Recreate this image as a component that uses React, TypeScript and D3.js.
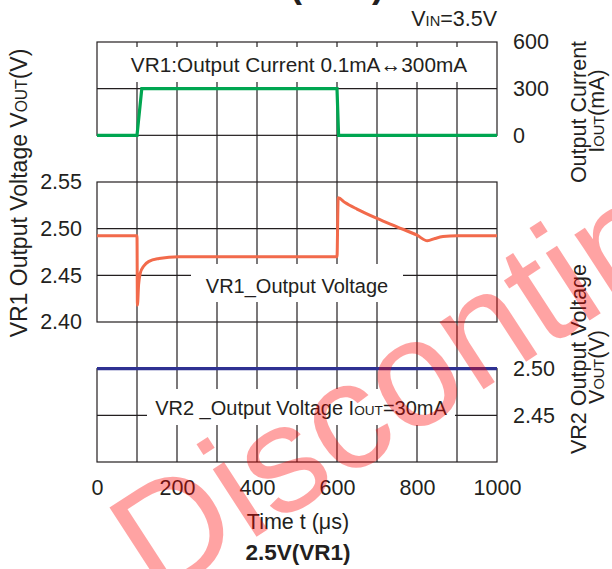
import { useEffect, useRef } from 'react';
import * as d3 from 'd3';

// axis ticks
const timeTicks = [0, 200, 400, 600, 800, 1000];
const timeGrid = [100, 200, 300, 400, 500, 600, 700, 800, 900];
const currentTicks = [0, 300, 600];
const vr1Ticks = [2.4, 2.45, 2.5, 2.55];
const vr2Ticks = [2.45, 2.5];

// VR1 load current step (mA)
const currentT = [0, 100, 112, 600, 604, 1000];
const currentMA = [0, 0, 300, 300, 0, 0];

// VR1 output voltage (V)
const vr1T = [0, 100, 101, 104, 108, 117, 130, 155, 205, 600, 603, 620, 650, 700, 750, 800, 826, 845, 865, 900, 1000];
const vr1V = [2.4925, 2.4925, 2.418, 2.44, 2.452, 2.46, 2.465, 2.468, 2.47, 2.47, 2.533, 2.528, 2.521, 2.511, 2.502, 2.493, 2.487, 2.4895, 2.4915, 2.4925, 2.4925];

// VR2 output voltage (V)
const vr2T = [0, 1000];
const vr2V = [2.5, 2.5];

const FONT = '"Liberation Sans", Arial, sans-serif';
const INK = '#231f20';

export default function App() {
  const svgRef = useRef<SVGSVGElement>(null);

  useEffect(() => {
    const svg = svgRef.current;
    if (!svg) return;

    const width = 612;
    const height = 569;
    const left = 97;
    const right = 497;
    const top = 42;
    const rowH = 420 / 9;
    const bottom = top + 9 * rowH;

    const sel = d3.select(svg);
    sel.selectAll('*').remove();
    sel.attr('viewBox', `0 0 ${width} ${height}`);

    const x = d3.scaleLinear().domain([0, 1000]).range([left, right]);
    const yCur = d3.scaleLinear().domain([0, 600]).range([top + 2 * rowH, top]);
    const yV1 = d3.scaleLinear().domain([2.4, 2.55]).range([top + 6 * rowH, top + 3 * rowH]);
    const yV2 = d3.scaleLinear().domain([2.4, 2.5]).range([bottom, top + 7 * rowH]);

    // clipped title of the chart above (only the bottom of the brackets shows)
    sel.append('text')
      .attr('x', 300)
      .attr('y', -3)
      .attr('text-anchor', 'middle')
      .attr('font-family', FONT)
      .attr('font-weight', 700)
      .attr('font-size', 36)
      .attr('fill', INK)
      .text('3.3V(VR2)');

    // vertical grid, through all three panels
    sel.append('g')
      .selectAll('line')
      .data(timeGrid)
      .join('line')
      .attr('x1', (d) => x(d))
      .attr('x2', (d) => x(d))
      .attr('y1', top)
      .attr('y2', bottom)
      .attr('stroke', INK)
      .attr('stroke-width', 1.2);

    // panel frames
    const panels = [
      [yCur(600), yCur(0)],
      [yV1(2.55), yV1(2.4)],
      [yV2(2.5), yV2(2.4)],
    ];
    sel.append('g')
      .selectAll('rect')
      .data(panels)
      .join('rect')
      .attr('x', left)
      .attr('y', (d) => d[0])
      .attr('width', right - left)
      .attr('height', (d) => d[1] - d[0])
      .attr('fill', 'none')
      .attr('stroke', INK)
      .attr('stroke-width', 1.2);

    // horizontal grid inside panels
    const hLines = [yCur(300), yV1(2.45), yV1(2.5), yV2(2.45)];
    sel.append('g')
      .selectAll('line')
      .data(hLines)
      .join('line')
      .attr('x1', left)
      .attr('x2', right)
      .attr('y1', (d) => d)
      .attr('y2', (d) => d)
      .attr('stroke', INK)
      .attr('stroke-width', 1.2);

    // white boxes behind the in-plot labels
    const boxes = [
      [98, 47, 496, 82],
      [191, 264, 403, 302],
      [147, 389, 455, 425],
    ];
    sel.append('g')
      .selectAll('rect')
      .data(boxes)
      .join('rect')
      .attr('x', (d) => d[0])
      .attr('y', (d) => d[1])
      .attr('width', (d) => d[2] - d[0])
      .attr('height', (d) => d[3] - d[1])
      .attr('fill', '#fff');

    // text with small-caps subscripts like V_OUT
    const rich = (
      parent: d3.Selection<any, any, any, any>,
      parts: [string, boolean][],
      size: number
    ) => {
      parts.forEach(([t, small]) => {
        parent.append('tspan').attr('font-size', small ? size * 0.68 : size).text(t);
      });
      return parent;
    };

    const label = (px: number, py: number, size: number, parts: [string, boolean][], anchor = 'middle', rotate = false) => {
      const t = sel.append('text')
        .attr('font-family', FONT)
        .attr('font-size', size)
        .attr('fill', INK)
        .attr('text-anchor', anchor);
      if (rotate) t.attr('transform', `translate(${px},${py}) rotate(-90)`);
      else t.attr('x', px).attr('y', py);
      return rich(t, parts, size);
    };

    label(299, 72, 20.8, [['VR1:Output Current 0.1mA\u2194300mA', false]]);
    label(297, 293, 20, [['VR1_Output Voltage', false]]);
    label(301, 415, 20, [['VR2 _Output Voltage I', false], ['OUT', true], ['=30mA', false]]);
    label(497, 26, 21.5, [['V', false], ['IN', true], ['=3.5V', false]], 'end');

    // axis titles
    label(27, 193, 23, [['VR1 Output Voltage V', false], ['OUT', true], ['(V)', false]], 'middle', true);
    label(586, 112, 21.5, [['Output Current', false]], 'middle', true);
    label(604, 111, 21.5, [['I', false], ['OUT', true], ['(mA)', false]], 'middle', true);
    label(586, 359, 21.5, [['VR2 Output Voltage', false]], 'middle', true);
    label(604, 367, 21.5, [['V', false], ['OUT', true], ['(V)', false]], 'middle', true);
    label(298, 529, 21.5, [['Time t (\u03bcs)', false]]);
    label(298, 560, 22.5, [['2.5V(VR1)', false]]).attr('font-weight', 700);

    const styleAxis = (g: d3.Selection<SVGGElement, unknown, null, undefined>) => {
      g.attr('font-size', 21.5).attr('font-family', FONT);
      g.select('.domain').remove();
      g.selectAll('.tick text').attr('fill', INK);
    };

    sel.append('g')
      .attr('transform', `translate(0,${bottom})`)
      .call(d3.axisBottom(x).tickValues(timeTicks).tickSize(0).tickPadding(18).tickFormat(d3.format('d')))
      .call(styleAxis);

    sel.append('g')
      .attr('transform', `translate(${left},0)`)
      .call(d3.axisLeft(yV1).tickValues(vr1Ticks).tickSize(0).tickPadding(15).tickFormat(d3.format('.2f')))
      .call(styleAxis);

    sel.append('g')
      .attr('transform', `translate(${right},0)`)
      .call(d3.axisRight(yCur).tickValues(currentTicks).tickSize(0).tickPadding(16).tickFormat(d3.format('d')))
      .call(styleAxis);

    sel.append('g')
      .attr('transform', `translate(${right},0)`)
      .call(d3.axisRight(yV2).tickValues(vr2Ticks).tickSize(0).tickPadding(16).tickFormat(d3.format('.2f')))
      .call(styleAxis);

    // data lines
    const pts = (ts: number[], vs: number[]) => ts.map((t, i) => [t, vs[i]] as [number, number]);

    const curLine = d3.line<[number, number]>().x((d) => x(d[0])).y((d) => yCur(d[1]));
    const v1Line = d3.line<[number, number]>().x((d) => x(d[0])).y((d) => yV1(d[1])).curve(d3.curveMonotoneX);
    const v2Line = d3.line<[number, number]>().x((d) => x(d[0])).y((d) => yV2(d[1]));

    sel.append('path')
      .attr('d', v2Line(pts(vr2T, vr2V)))
      .attr('fill', 'none')
      .attr('stroke', '#2e3192')
      .attr('stroke-width', 3.2);

    sel.append('path')
      .attr('d', v1Line(pts(vr1T, vr1V)))
      .attr('fill', 'none')
      .attr('stroke', '#f26a4b')
      .attr('stroke-width', 3)
      .attr('stroke-linejoin', 'round');

    sel.append('path')
      .attr('d', curLine(pts(currentT, currentMA)))
      .attr('fill', 'none')
      .attr('stroke', '#00a651')
      .attr('stroke-width', 3.2);

    // watermark
    sel.append('text')
      .attr('transform', 'translate(156,602) rotate(-33)')
      .attr('font-family', FONT)
      .attr('font-size', 152)
      .attr('fill', '#ff0000')
      .attr('fill-opacity', 0.36)
      .text('Discontinued');
  }, []);

  return (
    <>
      <style>{'body{margin:0}'}</style>
      <svg ref={svgRef} width={612} height={569} style={{ display: 'block', background: '#fff' }} />
    </>
  );
}
